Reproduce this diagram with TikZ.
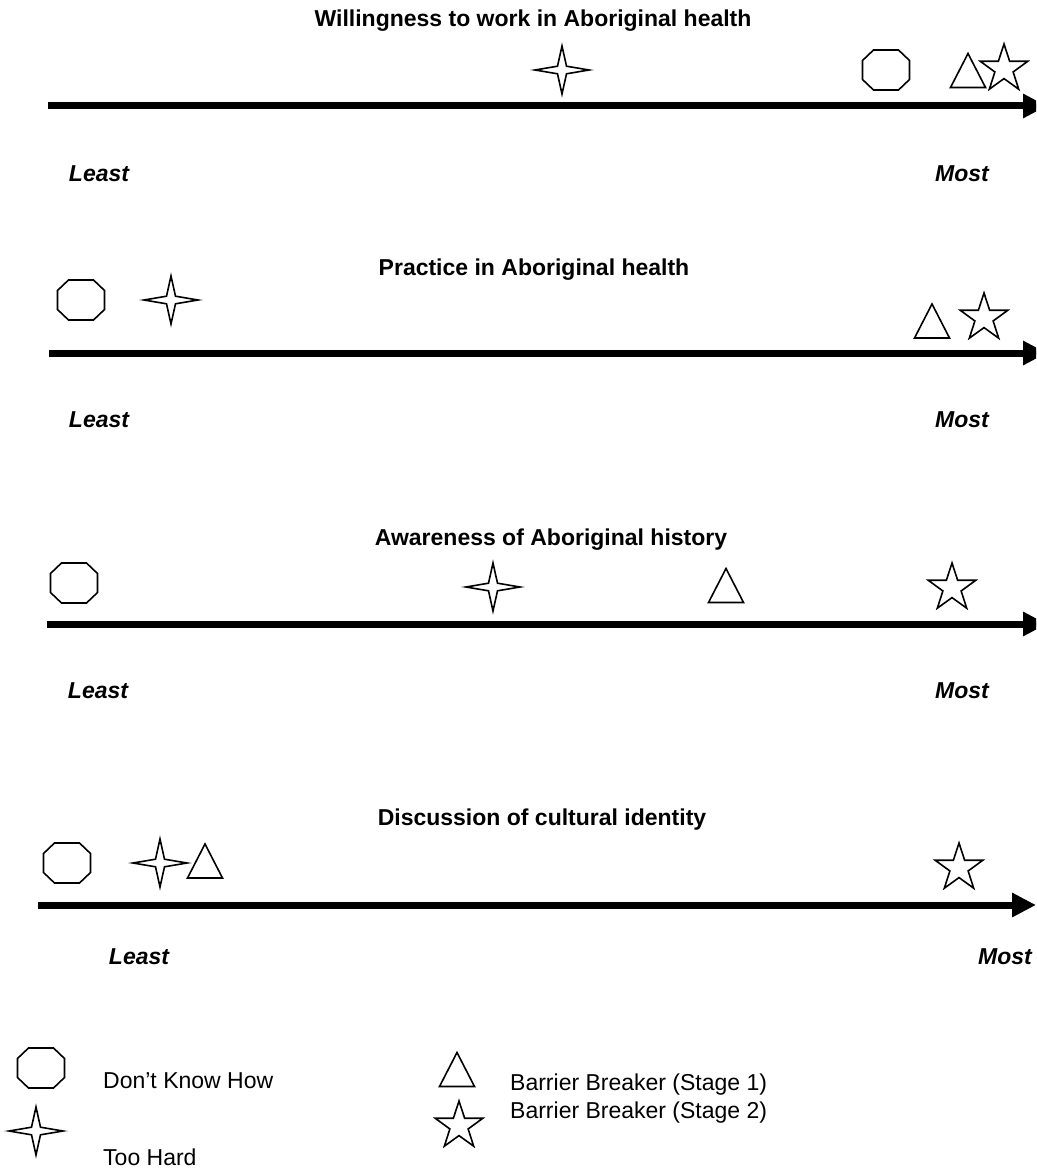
\documentclass[tikz,border=0pt]{standalone}
\usepackage{fontspec}
\setmainfont{Liberation Sans}
\usetikzlibrary{arrows.meta}
\tikzset{
  shp/.style={draw=black, line width=1.6pt, line join=miter, fill=white},
  axis/.style={line width=7pt, -{Triangle[length=24pt,width=23pt]}},
  ttl/.style={font=\fontsize{23}{27}\selectfont\bfseries, anchor=base, inner sep=0pt},
  endlab/.style={font=\fontsize{23}{27}\selectfont\bfseries\itshape, anchor=base, inner sep=0pt},
  legtxt/.style={font=\fontsize{23}{27}\selectfont, anchor=base west, inner sep=0pt},
  octag/.pic={\draw[shp] (-23.5,-9.5) -- (-12.5,-20) -- (12.5,-20) -- (23.5,-9.5) -- (23.5,9.5) -- (12.5,20) -- (-12.5,20) -- (-23.5,9.5) -- cycle;},
  starfour/.pic={\draw[shp] (0,-24) -- (4.5,-3.8) -- (27,0) -- (4.5,3.8) -- (0,24) -- (-4.5,3.8) -- (-27,0) -- (-4.5,-3.8) -- cycle;},
  starfive/.pic={\draw[shp] (270:25) -- (306:9.6) -- (342:25) -- (18:9.6) -- (54:25) -- (90:9.6) -- (126:25) -- (162:9.6) -- (198:25) -- (234:9.6) -- cycle;},
  tri/.pic={\draw[shp] (0,-17) -- (17.5,17) -- (-17.5,17) -- cycle;}
}
\begin{document}
\begin{tikzpicture}[x=1pt,y=-1pt]
\useasboundingbox (0,0) rectangle (1036,1169);
\clip (0,0) rectangle (1036,1169);

% Row 1
\node[ttl] (t1) at (533,27) {Willingness to work in Aboriginal health};
\coordinate (a1s) at (48,106);
\coordinate (a1e) at (1047,106);
\draw[axis] (a1s) -- (a1e);
\pic (r1oct) at (886,70) {octag};
\pic (r1sf) at (562,70) {starfour};
\pic (r1tri) at (968,70.5) {tri};
\pic (r1st) at (1004,69) {starfive};
\node[endlab] (l1) at (99,182) {Least};
\node[endlab] (m1) at (962,182) {Most};

% Row 2
\node[ttl] (t2) at (534,275) {Practice in Aboriginal health};
\coordinate (a2s) at (49,353);
\coordinate (a2e) at (1047,353);
\draw[axis] (a2s) -- (a2e);
\pic (r2oct) at (81,300) {octag};
\pic (r2sf) at (171,300) {starfour};
\pic (r2tri) at (932,321) {tri};
\pic (r2st) at (984,318) {starfive};
\node[endlab] (l2) at (99,427) {Least};
\node[endlab] (m2) at (962,427) {Most};

% Row 3
\node[ttl] (t3) at (551,545) {Awareness of Aboriginal history};
\coordinate (a3s) at (47,624);
\coordinate (a3e) at (1047,624);
\draw[axis] (a3s) -- (a3e);
\pic (r3oct) at (74,583) {octag};
\pic (r3sf) at (493,587) {starfour};
\pic (r3tri) at (726,585.5) {tri};
\pic (r3st) at (952,588) {starfive};
\node[endlab] (l3) at (98,698) {Least};
\node[endlab] (m3) at (962,698) {Most};

% Row 4
\node[ttl] (t4) at (542,825) {Discussion of cultural identity};
\coordinate (a4s) at (38,905);
\coordinate (a4e) at (1036,905);
\draw[axis] (a4s) -- (a4e);
\pic (r4oct) at (67,863) {octag};
\pic (r4sf) at (160,863) {starfour};
\pic (r4tri) at (205,861) {tri};
\pic (r4st) at (959,868) {starfive};
\node[endlab] (l4) at (139,964) {Least};
\node[endlab] (m4) at (1005,964) {Most};

% Legend
\pic (loct) at (41,1068) {octag};
\node[legtxt] (lt1) at (103,1088) {Don’t Know How};
\pic (lsf) at (36,1131) {starfour};
\node[legtxt] (lt2) at (103,1165) {Too Hard};
\pic (ltri) at (457,1069.5) {tri};
\node[legtxt] (lt3) at (510,1090) {Barrier Breaker (Stage 1)};
\pic (lst) at (459,1126) {starfive};
\node[legtxt] (lt4) at (510,1118) {Barrier Breaker (Stage 2)};
\end{tikzpicture}
\end{document}
